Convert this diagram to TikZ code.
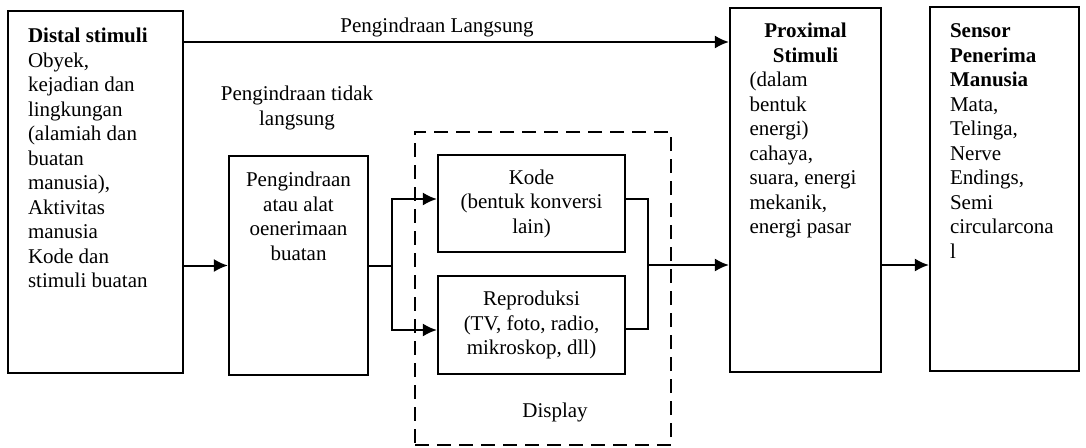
\documentclass[tikz,border=0pt]{standalone}
\usepackage{fontspec}
\setmainfont{Liberation Serif}
\usetikzlibrary{arrows.meta}
\begin{document}
\begin{tikzpicture}[x=1pt,y=-1pt,font=\fontsize{21}{24.5}\selectfont]
        \tikzstyle{block}=[rectangle,draw=black,line width=2.2pt,inner sep=0pt]
        \tikzstyle{dashbox}=[rectangle,draw=black,line width=2pt,dash pattern=on 14pt off 8pt]
        \tikzstyle{edge}=[draw,line width=2pt]
        \tikzstyle{arrow}=[draw,line width=2pt,-{Latex[length=14pt,width=13pt]}]
        \useasboundingbox (0,0) rectangle (1086,447);
       \begin{scope}
         \node [block,minimum width=175pt,minimum height=362pt] (distal) at (95.5,192)
           {\parbox[c][328pt][t]{135pt}{\raggedright\textbf{Distal stimuli}\\ Obyek,\\ kejadian dan\\ lingkungan\\ (alamiah dan\\ buatan\\ manusia),\\ Aktivitas\\ manusia\\ Kode dan\\ stimuli buatan}};
         \node [block,minimum width=139pt,minimum height=219pt] (alat) at (298.5,265.5)
           {\parbox[c][187pt][t]{120pt}{\centering Pengindraan\\ atau alat\\ oenerimaan\\ buatan}};
         \node [dashbox,minimum width=256pt,minimum height=313pt] (display) at (543,288.5) {};
         \node [block,minimum width=187pt,minimum height=97pt,align=center] (kode) at (531.5,203.5)
           {Kode\\ (bentuk konversi\\ lain)};
         \node [block,minimum width=187pt,minimum height=98pt,align=center] (repro) at (531.5,325)
           {Reproduksi\\ (TV, foto, radio,\\ mikroskop, dll)};
         \node (displaytext) at (555,412) {Display};
         \node [block,minimum width=151pt,minimum height=364pt] (proximal) at (805.5,190)
           {\parbox[c][334pt][t]{112pt}{{\centering\textbf{Proximal}\\ \textbf{Stimuli}\par}\raggedright (dalam\\ bentuk\\ energi)\\ cahaya,\\ suara, energi\\ mekanik,\\ energi pasar}};
         \node [block,minimum width=149pt,minimum height=364pt] (sensor) at (1004.5,189)
           {\parbox[c][330pt][t]{109pt}{\raggedright\textbf{Sensor}\\ \textbf{Penerima}\\ \textbf{Manusia}\\ Mata,\\ Telinga,\\ Nerve\\ Endings,\\ Semi\\ circularcona\\ l}};
         \node (langsung) at (437,27) {Pengindraan Langsung};
         \node [align=center] (tidak) at (297,108) {Pengindraan tidak\\ langsung};
         \coordinate (lang) at (456,42);
         \coordinate (split) at (392,265.5);
         \coordinate (merge) at (648,265);
         \path[arrow] (distal.east |- lang) -- (proximal.west |- lang);
         \path[arrow] (distal.east |- alat.west) -- (alat.west);
         \path[edge] (alat.east) -- (split);
         \path[arrow] (split) |- ([yshift=4.5pt]kode.west);
         \path[arrow] (split) |- ([yshift=-5pt]repro.west);
         \path[edge] ([yshift=5pt]kode.east) -| (merge) |- ([yshift=-4pt]repro.east);
         \path[arrow] (merge) -- (proximal.west |- merge);
         \path[arrow] (proximal.east |- merge) -- (sensor.west |- merge);
        \end{scope}
      \end{tikzpicture}
\end{document}
